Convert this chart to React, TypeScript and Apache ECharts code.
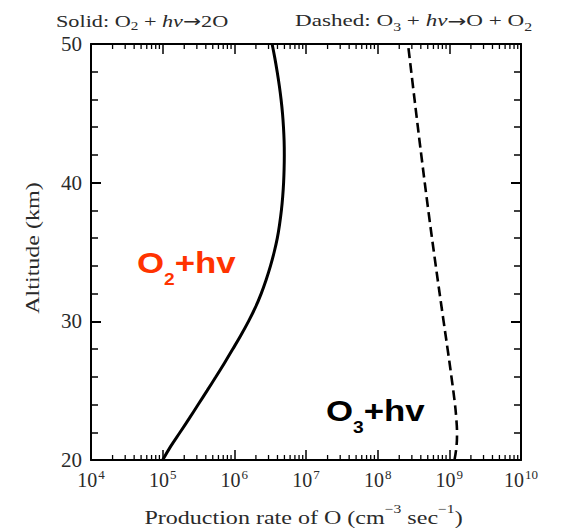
import React, { useEffect, useRef } from "react";
import * as echarts from "echarts";

// Altitude grid (km) and O production rate from O2 photolysis (solid curve)
const o2Altitude = [20, 21, 22, 23, 24, 25, 26, 27, 28, 29, 30, 31, 32, 33, 34, 35, 36, 37, 38, 39, 40, 41, 42, 43, 44, 45, 46, 47, 48, 49, 50];
const o2Rate = [
  1.0e5, 1.3e5, 1.75e5, 2.35e5, 3.13e5, 4.17e5, 5.53e5, 7.29e5, 9.52e5, 1.235e6, 1.576e6,
  1.967e6, 2.37e6, 2.78e6, 3.195e6, 3.6e6, 3.977e6, 4.28e6, 4.535e6, 4.73e6, 4.87e6,
  4.95e6, 4.98e6, 4.95e6, 4.85e6, 4.7e6, 4.49e6, 4.24e6, 3.96e6, 3.67e6, 3.365e6,
];

// O production rate from O3 photolysis (dashed curve)
const o3Altitude = [20, 21, 22, 23, 24, 26, 28, 30, 34, 38, 42, 46, 50];
const o3Rate = [1.18e9, 1.26e9, 1.28e9, 1.25e9, 1.2e9, 1.07e9, 9.46e8, 8.32e8, 6.47e8, 5.09e8, 4.06e8, 3.27e8, 2.65e8];

// Axis ticks
const xDecades = [1e4, 1e5, 1e6, 1e7, 1e8, 1e9, 1e10];
const xMinorMultipliers = [2, 3, 4, 5, 6, 7, 8, 9];
const yTicks = [20, 30, 40, 50];

const SERIF = "Liberation Serif";
const SANS = "Liberation Sans";
const ARROW_FONT = "DejaVu Sans";
const TEXT_COLOR = "#2a2a2a";

export default function App() {
  const ref = useRef<HTMLDivElement>(null);

  useEffect(() => {
    if (!ref.current) return;
    const chart = echarts.init(ref.current, undefined, { renderer: "svg" });

    const yMin = yTicks[0];
    const yMax = yTicks[yTicks.length - 1];
    const minorTickValues: number[] = [];
    xDecades.slice(0, -1).forEach((d) => xMinorMultipliers.forEach((m) => minorTickValues.push(d * m)));

    const axisLine = { show: true, lineStyle: { color: "#000", width: 2 } };

    const titleRich = {
      t: { fontFamily: SERIF, fontSize: 17.5, lineHeight: 18, fill: TEXT_COLOR, verticalAlign: "top" },
      i: { fontFamily: SERIF, fontSize: 17.5, lineHeight: 18, fontStyle: "italic", fill: TEXT_COLOR, verticalAlign: "top" },
      ar: { fontFamily: ARROW_FONT, fontSize: 17, lineHeight: 18, fill: TEXT_COLOR, verticalAlign: "top", padding: [1, 0, 0, 0] },
      sub: { fontFamily: SERIF, fontSize: 12, lineHeight: 12, fill: TEXT_COLOR, padding: [9, 0, 0, 0], verticalAlign: "top" },
    };

    const bigRich = (color: string) => ({
      a: { fontFamily: SANS, fontWeight: "bold", fontSize: 29, lineHeight: 29, fill: color, verticalAlign: "top" },
      s: { fontFamily: SANS, fontWeight: "bold", fontSize: 16, lineHeight: 16, fill: color, padding: [23, 0, 0, 0], verticalAlign: "top" },
    });

    const axisNameRich = {
      t: { fontFamily: SERIF, fontSize: 18.5, lineHeight: 20, fill: TEXT_COLOR, padding: [5, 0, 0, 0], verticalAlign: "top" },
      sup: { fontFamily: SERIF, fontSize: 12, lineHeight: 12, fill: TEXT_COLOR, verticalAlign: "top" },
    };

    chart.setOption({
      animation: false,
      backgroundColor: "#fff",
      grid: { left: 91, right: 40, top: 44, bottom: 69, containLabel: false },
      xAxis: [
        {
          type: "log",
          logBase: 10,
          min: xDecades[0],
          max: xDecades[xDecades.length - 1],
          splitNumber: 6,
          position: "bottom",
          axisLine,
          axisTick: { show: true, inside: true, length: 10, lineStyle: { color: "#000", width: 1.5 } },
          splitLine: { show: false },
          axisLabel: {
            margin: 6,
            formatter: (v: number) => `{b|10}{s|${Math.round(Math.log10(v))}}`,
            rich: {
              b: { fontFamily: SERIF, fontSize: 20, lineHeight: 20, color: TEXT_COLOR, padding: [4, 0, 0, 0], verticalAlign: "top" },
              s: { fontFamily: SERIF, fontSize: 13, lineHeight: 13, color: TEXT_COLOR, padding: [2, 0, 0, 1], verticalAlign: "top" },
            },
          },
        },
        {
          type: "log",
          logBase: 10,
          min: xDecades[0],
          max: xDecades[xDecades.length - 1],
          splitNumber: 6,
          position: "top",
          axisLine,
          axisTick: { show: true, inside: true, length: 10, lineStyle: { color: "#000", width: 1.5 } },
          splitLine: { show: false },
          axisLabel: { show: false },
        },
      ],
      yAxis: [
        {
          type: "value",
          min: yMin,
          max: yMax,
          interval: 10,
          position: "left",
          axisLine,
          axisTick: { show: true, inside: true, length: 10, lineStyle: { color: "#000", width: 2 } },
          minorTick: { show: true, splitNumber: 5, length: 7, lineStyle: { color: "#000", width: 1.5 } },
          splitLine: { show: false },
          minorSplitLine: { show: false },
          axisLabel: { margin: 9, fontFamily: SERIF, fontSize: 21, color: TEXT_COLOR },
        },
        {
          type: "value",
          min: yMin,
          max: yMax,
          interval: 10,
          position: "right",
          axisLine,
          axisTick: { show: true, inside: true, length: 10, lineStyle: { color: "#000", width: 2 } },
          minorTick: { show: true, splitNumber: 5, length: 7, lineStyle: { color: "#000", width: 1.5 } },
          splitLine: { show: false },
          minorSplitLine: { show: false },
          axisLabel: { show: false },
        },
      ],
      series: [
        {
          name: "O2+hv",
          type: "line",
          xAxisIndex: 0,
          yAxisIndex: 0,
          data: o2Altitude.map((h, i) => [o2Rate[i], h]),
          smooth: 0.4,
          showSymbol: false,
          lineStyle: { color: "#000", width: 3 },
          z: 3,
        },
        {
          name: "O3+hv",
          type: "line",
          xAxisIndex: 0,
          yAxisIndex: 0,
          data: o3Altitude.map((h, i) => [o3Rate[i], h]),
          smooth: 0.4,
          showSymbol: false,
          lineStyle: { color: "#000", width: 2.6, type: [10, 5] },
          z: 3,
        },
        {
          name: "minorTicks",
          type: "custom",
          xAxisIndex: 0,
          yAxisIndex: 0,
          silent: true,
          clip: false,
          data: minorTickValues.map((v) => [v, yMin]),
          renderItem: (_params: any, api: any) => {
            const v = api.value(0);
            const b = api.coord([v, yMin]);
            const t = api.coord([v, yMax]);
            const style = { stroke: "#000", lineWidth: 1.3 };
            return {
              type: "group",
              children: [
                { type: "line", shape: { x1: b[0], y1: b[1], x2: b[0], y2: b[1] - 5 }, style },
                { type: "line", shape: { x1: t[0], y1: t[1], x2: t[0], y2: t[1] + 5 }, style },
              ],
            };
          },
          z: 4,
        },
      ],
      graphic: [
        {
          type: "text",
          x: 56,
          y: 11.5,
          scaleX: 1.27,
          style: {
            text: "{t|Solid: O}{sub|2}{t| + }{i|hν}{ar|→}{t|2O}",
            rich: titleRich,
            textAlign: "left",
            textVerticalAlign: "top",
          },
        },
        {
          type: "text",
          x: 295,
          y: 11.5,
          scaleX: 1.32,
          style: {
            text: "{t|Dashed: O}{sub|3}{t| + }{i|hν}{ar|→}{t|O + O}{sub|2}",
            rich: titleRich,
            textAlign: "left",
            textVerticalAlign: "top",
          },
        },
        {
          type: "text",
          x: 137,
          y: 248.5,
          scaleX: 1.2,
          style: {
            text: "{a|O}{s|2}{a|+hv}",
            rich: bigRich("#ff3300"),
            textAlign: "left",
            textVerticalAlign: "top",
          },
        },
        {
          type: "text",
          x: 326,
          y: 396.3,
          scaleX: 1.2,
          style: {
            text: "{a|O}{s|3}{a|+hv}",
            rich: bigRich("#000000"),
            textAlign: "left",
            textVerticalAlign: "top",
          },
        },
        {
          type: "text",
          x: 303.5,
          y: 503,
          scaleX: 1.3,
          style: {
            text: "{t|Production rate of O (cm}{sup|−3}{t| sec}{sup|−1}{t|)}",
            rich: axisNameRich,
            textAlign: "center",
            textVerticalAlign: "top",
          },
        },
        {
          type: "text",
          x: 33,
          y: 248,
          rotation: Math.PI / 2,
          scaleX: 1.3,
          style: {
            text: "Altitude (km)",
            fontFamily: SERIF,
            fontSize: 18.5,
            fill: TEXT_COLOR,
            textAlign: "center",
            textVerticalAlign: "middle",
          },
        },
      ],
    });

    return () => chart.dispose();
  }, []);

  return (
    <div
      ref={ref}
      style={{ position: "fixed", left: 0, top: 0, width: 561, height: 529, background: "#fff" }}
    />
  );
}
